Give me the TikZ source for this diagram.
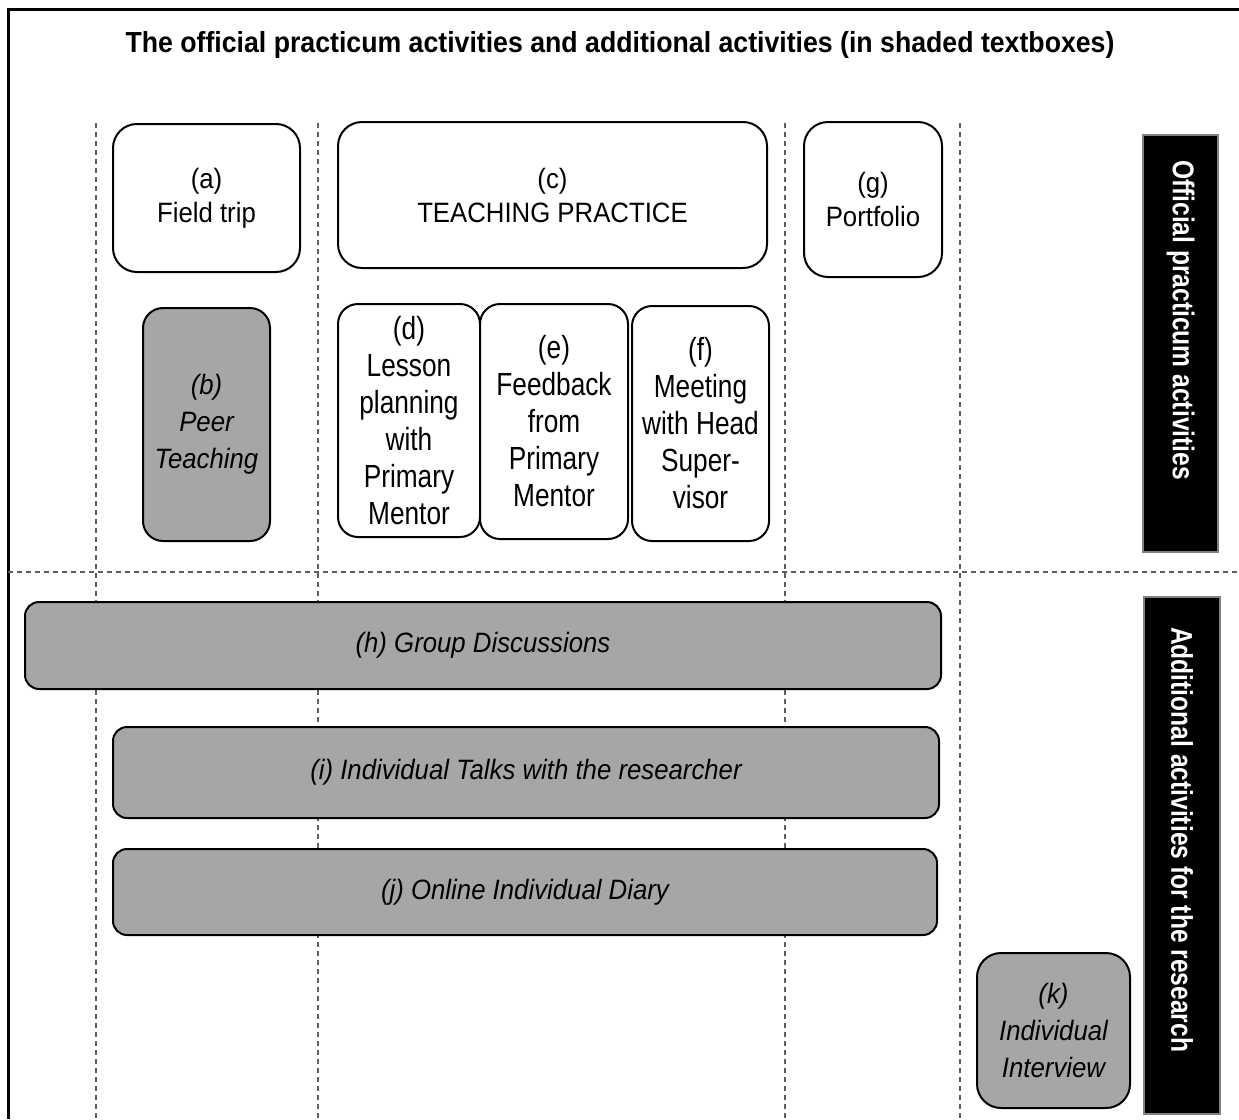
\documentclass[tikz,border=0pt]{standalone}
\usepackage{fontspec}
\setmainfont{Liberation Sans}[FakeStretch=0.92]
\newfontfamily\narrowfam{Liberation Sans}[FakeStretch=0.82]
\usepackage{tikz}
\usetikzlibrary{calc}
\usetikzlibrary{positioning}
\definecolor{shade}{HTML}{A6A6A6}
\definecolor{dashgray}{HTML}{5E5E5E}
\newcommand\actfont{\fontsize{28}{34}\selectfont}
\newcommand\extrafont{\fontsize{28}{37}\selectfont\itshape}
\newcommand\bigactfont{\narrowfam\fontsize{32}{37}\selectfont}
\newcommand\barfont{\narrowfam\fontsize{30}{34}\selectfont\bfseries}
\tikzset{act/.style={draw=black,line width=2pt,fill=white,rounded corners=24pt,align=center,inner sep=0pt,font=\actfont}}
\tikzset{extra/.style={act,fill=shade,font=\extrafont}}

\begin{document}
\begin{tikzpicture}[x=1pt,y=-1pt]
\tikzstyle{sep} = [dashgray, line width=1.5pt, dash pattern=on 5pt off 4pt]
\tikzstyle{bar} = [fill=black, draw=gray, line width=1.5pt, text=white, font=\barfont, rotate=-90, inner ysep=0pt, align=flush left]
\useasboundingbox (0,0) rectangle (1239,1119);

% frame and title
\draw[line width=3pt] (8,1119) -- (8,9) -- (1239,9);
\node[font=\fontsize{29}{32}\selectfont\bfseries](title) at (620,45){The official practicum activities and additional activities (in shaded textboxes)};

% column and row separators
\foreach \x in {96, 318, 785, 960}
  \draw[sep] (\x,123) -- (\x,1119);
\draw[sep] (8,572) -- (1239,572);

% official activities
\node[act, minimum width=187, minimum height=148](a) at (206.5,198){(a)\\Field trip};
\node[act, minimum width=429, minimum height=146](c) at (552.5,195){(c)\\TEACHING PRACTICE};
\node[act, minimum width=138, minimum height=155](g) at (873,199.5){(g)\\Portfolio};
\node[extra, minimum width=127, minimum height=233, rounded corners=20pt](b) at (206.5,424.5){(b)\\Peer\\Teaching};
\node[act, minimum width=142, minimum height=233, rounded corners=20pt, font=\bigactfont](d) at (409,420.5){(d)\\Lesson\\planning\\with\\Primary\\Mentor};
\node[act, minimum width=148, minimum height=235, rounded corners=20pt, font=\bigactfont](e) at (554,421.5){(e)\\Feedback\\from\\Primary\\Mentor};
\node[act, minimum width=137, minimum height=235, rounded corners=20pt, font=\bigactfont](f) at (700.5,423.5){(f)\\Meeting\\with Head\\Super-\\visor};

% additional activities
\node[extra, minimum width=916, minimum height=87, rounded corners=14pt](h) at (483,645.5){(h) Group Discussions};
\node[extra, minimum width=826, minimum height=91, rounded corners=14pt](i) at (526,772.5){(i) Individual Talks with the researcher};
\node[extra, minimum width=824, minimum height=86, rounded corners=14pt](j) at (525,892){(j) Online Individual Diary};
\node[extra, minimum width=153, minimum height=155](k) at (1053.5,1030.5){(k)\\Individual\\Interview};

% side labels
\node[bar, inner xsep=25pt, text width=367pt, minimum height=75](official) at (1180.5,343.5){Official practicum activities};
\node[bar, inner xsep=30pt, text width=457pt, minimum height=76](additional) at (1182,855.5){Additional activities for the research};
\end{tikzpicture}
\end{document}
